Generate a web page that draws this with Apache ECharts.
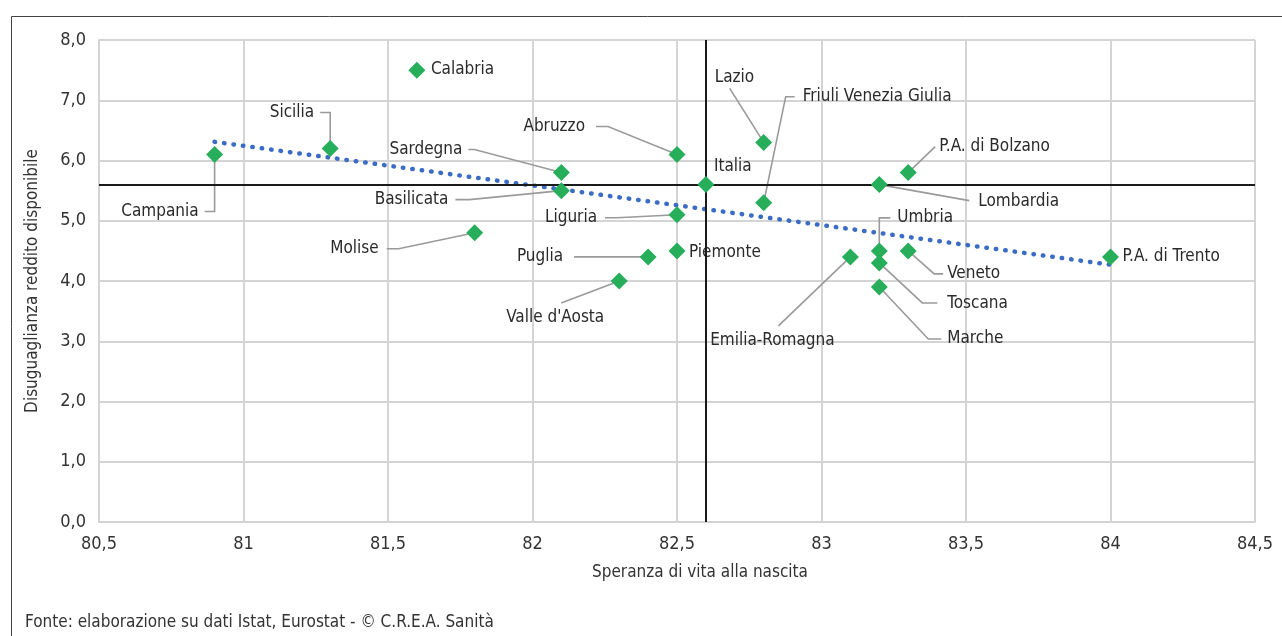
<!DOCTYPE html>
<html>
<head>
<meta charset="UTF-8">
<title>Speranza di vita e disuguaglianza</title>
<script src="https://cdn.jsdelivr.net/npm/echarts@6/dist/echarts.min.js"></script>
<style>
  html, body { margin: 0; padding: 0; background: #fff; }
</style>
</head>
<body>
    <div id="main" style="width: 1282px; height: 636px;"></div>
    <script>
        // dati
        var regions = ["Campania", "Sicilia", "Calabria", "Molise", "Sardegna", "Basilicata",
            "Valle d'Aosta", "Puglia", "Abruzzo", "Liguria", "Piemonte", "Italia", "Lazio",
            "Friuli Venezia Giulia", "Emilia-Romagna", "Lombardia", "Umbria", "Toscana",
            "Marche", "P.A. di Bolzano", "Veneto", "P.A. di Trento"];
        var lifeExp = [80.9, 81.3, 81.6, 81.8, 82.1, 82.1, 82.3, 82.4, 82.5, 82.5, 82.5, 82.6,
            82.8, 82.8, 83.1, 83.2, 83.2, 83.2, 83.2, 83.3, 83.3, 84.0];
        var inequality = [6.1, 6.2, 7.5, 4.8, 5.8, 5.5, 4.0, 4.4, 6.1, 5.1, 4.5, 5.6,
            6.3, 5.3, 4.4, 5.6, 4.5, 4.3, 3.9, 5.8, 4.5, 4.4];
        var italiaX = 82.6, italiaY = 5.6;
        var trendX = [80.9, 84.0];
        var trendY = [6.31, 4.27];
        var xTicks = [80.5, 81, 81.5, 82, 82.5, 83, 83.5, 84, 84.5];
        var yTicks = [0, 1, 2, 3, 4, 5, 6, 7, 8];

        // posizione etichette (offset in px rispetto al punto) e linee guida
        var labelPos = {
            "Campania": { t: [-16, 57], a: "right", l: [[0, 57], [-10, 57]] },
            "Sicilia": { t: [-16, -36], a: "right", l: [[0, -36], [-10, -36]] },
            "Calabria": { t: [14, -1], a: "left", l: [] },
            "Molise": { t: [-96, 16], a: "right", l: [[-76, 16], [-88, 16]] },
            "Sardegna": { t: [-99, -23], a: "right", l: [[-87, -23], [-93, -23]] },
            "Basilicata": { t: [-113, 9], a: "right", l: [[-92, 9], [-106, 9]] },
            "Valle d'Aosta": { t: [-64, 37], a: "center", l: [[-58, 22]] },
            "Puglia": { t: [-85, 0], a: "right", l: [[-74, 0]] },
            "Abruzzo": { t: [-92, -28], a: "right", l: [[-69, -28], [-81, -28]] },
            "Liguria": { t: [-80, 3], a: "right", l: [[-60, 3], [-72, 3]] },
            "Piemonte": { t: [12, 2], a: "left", l: [] },
            "Italia": { t: [8, -18], a: "left", l: [] },
            "Lazio": { t: [-49, -65], a: "left", l: [[-34, -54]] },
            "Friuli Venezia Giulia": { t: [39, -106], a: "left", l: [[22, -106], [31, -106]] },
            "Emilia-Romagna": { t: [-78, 84], a: "center", l: [[-72, 69]] },
            "Lombardia": { t: [99, 17], a: "left", l: [[90, 16]] },
            "Umbria": { t: [18, -33], a: "left", l: [[0, -33], [11, -33]] },
            "Toscana": { t: [68, 41], a: "left", l: [[43, 40], [58, 40]] },
            "Marche": { t: [68, 52], a: "left", l: [[49, 52], [62, 52]] },
            "P.A. di Bolzano": { t: [31, -26], a: "left", l: [[27, -26]] },
            "Veneto": { t: [39, 23], a: "left", l: [[26, 23], [35, 23]] },
            "P.A. di Trento": { t: [12, 0], a: "left", l: [] }
        };

        var font = "'Liberation Sans Narrow', 'DejaVu Sans Condensed', 'Roboto Condensed', sans-serif";
        var points = regions.map(function (r, i) { return [lifeExp[i], inequality[i], r]; });
        var trend = trendX.map(function (x, i) { return [x, trendY[i]]; });

        function fmt(v) { return String(v).replace(".", ","); }

        var myChart = echarts.init(document.getElementById("main"));

        var option = {
            animation: false,
            backgroundColor: "#fff",
            textStyle: { fontFamily: font },
            grid: { left: 99, right: 27, top: 40, bottom: 114 },
            graphic: [
                {
                    type: "rect", left: 9, top: 14, silent: true,
                    shape: { width: 1300, height: 700 },
                    style: { fill: "none", stroke: "#444", lineWidth: 1 }
                },
                {
                    type: "text", left: 25, top: 614, silent: true,
                    style: { text: "Fonte: elaborazione su dati Istat, Eurostat - © C.R.E.A. Sanità", fill: "#333", font: "17px " + font }
                }
            ],
            xAxis: {
                type: "value",
                min: xTicks[0], max: xTicks[xTicks.length - 1], interval: 0.5,
                name: "Speranza di vita alla nascita",
                nameLocation: "middle", nameGap: 42,
                nameTextStyle: { color: "#333", fontSize: 17, fontFamily: font, padding: [0, 0, 0, 46] },
                axisLine: { show: true, lineStyle: { color: "#d4d4d4", width: 2 } },
                axisTick: { show: false },
                axisLabel: { color: "#333", fontSize: 18, margin: 13, fontFamily: font, formatter: fmt },
                splitLine: { show: true, lineStyle: { color: "#d4d4d4", width: 2 } }
            },
            yAxis: {
                type: "value",
                min: yTicks[0], max: yTicks[yTicks.length - 1], interval: 1,
                name: "Disuguaglianza reddito disponibile",
                nameLocation: "middle", nameGap: 58,
                nameTextStyle: { color: "#333", fontSize: 17, fontFamily: font },
                axisLine: { show: true, lineStyle: { color: "#d4d4d4", width: 2 } },
                axisTick: { show: false },
                axisLabel: { color: "#333", fontSize: 18, margin: 13, fontFamily: font,
                    formatter: function (v) { return v.toFixed(1).replace(".", ","); } },
                splitLine: { show: true, lineStyle: { color: "#d4d4d4", width: 2 } }
            },
            series: [
                {
                    type: "line",
                    data: trend,
                    symbol: "none",
                    silent: true,
                    z: 3,
                    lineStyle: { color: "#3a6cc6", width: 4.5, type: [0.5, 9], cap: "round" },
                    markLine: {
                        silent: true,
                        symbol: "none",
                        label: { show: false },
                        lineStyle: { color: "#1a1a1a", width: 2, type: "solid" },
                        data: [{ xAxis: italiaX }, { yAxis: italiaY }]
                    }
                },
                {
                    type: "custom",
                    data: points,
                    silent: true,
                    z: 4,
                    renderItem: function (params, api) {
                        var name = regions[params.dataIndex];
                        var p = api.coord([api.value(0), api.value(1)]);
                        var lp = labelPos[name];
                        var children = [];
                        if (lp.l.length) {
                            var pts = [p.slice()];
                            lp.l.forEach(function (d) { pts.push([p[0] + d[0], p[1] + d[1]]); });
                            children.push({
                                type: "polyline",
                                shape: { points: pts },
                                style: { stroke: "#9a9a9a", lineWidth: 1.6, fill: "none" }
                            });
                        }
                        children.push({
                            type: "text",
                            x: p[0] + lp.t[0], y: p[1] + lp.t[1],
                            style: {
                                text: name, fill: "#2a2a2a",
                                font: "17px " + font,
                                align: lp.a, verticalAlign: "middle"
                            }
                        });
                        return { type: "group", children: children };
                    }
                },
                {
                    type: "scatter",
                    data: points,
                    symbol: "diamond",
                    symbolSize: 17,
                    z: 5,
                    itemStyle: { color: "#26ae5a", opacity: 1 }
                }
            ]
        };

        myChart.setOption(option);
    </script>
</body>
</html>
